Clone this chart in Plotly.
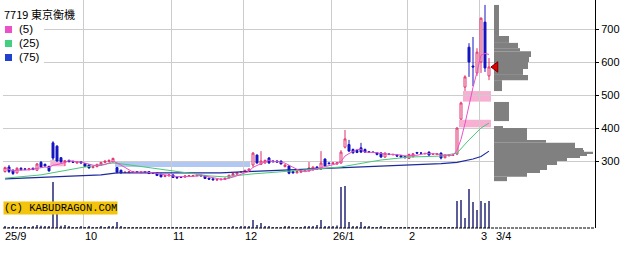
import pandas as pd
import plotly.graph_objects as go

# ---------------- data ----------------
holidays = ["2025-09-15", "2025-09-23", "2025-10-13", "2025-11-03", "2025-11-24",
            "2025-12-31", "2026-01-01", "2026-01-02", "2026-01-12", "2026-02-11", "2026-02-23"]
dates = pd.bdate_range("2025-09-01", "2026-03-04", freq="C", holidays=holidays)

open_ = [
    268, 282, 272, 264, 278, 276, 274, 278, 272, 296, 290, 284, 355, 345, 310, 296, 302, 299, 294, 298,
    292, 288, 280, 283, 288, 296, 299, 297, 280, 272, 266, 265, 266, 268, 265, 268, 268, 265, 264, 260, 253, 255,
    258, 251, 251, 251, 254, 254, 255, 257, 255, 248, 246, 242, 243, 244, 249, 255, 260, 266,
    268, 270, 288, 318, 290, 294, 309, 300, 300, 300, 283, 285, 268, 264, 266, 270, 270, 273, 282, 276, 306, 294,
    292, 291, 294, 342, 350, 335, 332, 340, 335, 328, 327, 325, 324, 312, 321, 319, 318, 316, 314,
    308, 313, 326, 324, 322, 327, 321, 320, 324, 310, 316, 317, 321, 427, 524, 645, 588, 567,
    600, 721, 558]
high = [
    283, 288, 275, 281, 281, 279, 279, 280, 294, 300, 292, 284, 360, 348, 312, 303, 304, 301, 299, 300,
    294, 290, 284, 291, 297, 301, 304, 310, 282, 274, 268, 269, 269, 269, 268, 269, 269, 266, 265, 261, 257, 259,
    259, 253, 253, 256, 257, 257, 258, 258, 256, 249, 247, 245, 246, 249, 258, 263, 266, 269,
    273, 277, 327, 320, 330, 304, 312, 302, 302, 301, 290, 287, 270, 269, 271, 273, 297, 283, 284, 330, 308, 296,
    296, 296, 333, 394, 364, 338, 335, 355, 338, 330, 329, 327, 327, 326, 323, 322, 320, 318, 316,
    322, 324, 327, 326, 325, 329, 323, 323, 326, 320, 319, 320, 402, 480, 560, 657, 676, 642,
    735, 773, 612]
low = [
    265, 264, 258, 262, 271, 272, 272, 273, 270, 280, 283, 268, 303, 298, 295, 285, 296, 294, 292, 292,
    282, 277, 278, 281, 286, 294, 297, 296, 262, 262, 263, 263, 264, 265, 263, 265, 261, 262, 255, 251, 251, 253,
    249, 247, 249, 250, 253, 253, 254, 254, 246, 244, 242, 241, 242, 243, 248, 254, 259, 264,
    266, 268, 280, 292, 288, 292, 292, 296, 295, 290, 281, 260, 262, 263, 265, 269, 268, 271, 275, 273, 283, 290,
    290, 289, 292, 338, 328, 322, 324, 325, 325, 325, 325, 317, 310, 310, 318, 317, 313, 310, 308,
    306, 311, 321, 322, 320, 316, 319, 318, 305, 308, 314, 315, 318, 425, 512, 555, 527, 558,
    567, 570, 545]
close = [
    280, 268, 262, 278, 274, 275, 277, 274, 291, 282, 285, 270, 309, 300, 298, 300, 298, 296, 297, 294,
    284, 279, 283, 290, 296, 300, 302, 308, 266, 264, 266, 268, 268, 266, 267, 266, 262, 263, 256, 252, 256, 258,
    250, 249, 250, 255, 256, 256, 257, 255, 247, 245, 243, 244, 245, 248, 257, 262, 265, 268,
    272, 276, 324, 294, 300, 302, 294, 298, 297, 291, 288, 263, 264, 268, 270, 272, 279, 282, 276, 294, 285, 292,
    294, 295, 327, 367, 330, 325, 326, 327, 327, 327, 326, 320, 312, 324, 320, 320, 315, 312, 310,
    320, 322, 324, 324, 323, 318, 321, 322, 309, 318, 318, 318, 400, 476, 555, 600, 585, 630,
    733, 582, 585]
volume = [
    30, 20, 30, 20, 20, 30, 20, 25, 60, 45, 25, 30, 920, 300, 45, 60, 25, 20, 20, 25,
    20, 25, 20, 20, 25, 20, 25, 30, 120, 40, 20, 15, 15, 20, 15, 15, 20, 15, 20, 20, 15, 15,
    20, 15, 15, 15, 15, 15, 15, 15, 20, 15, 15, 20, 15, 15, 20, 25, 20, 30,
    30, 40, 160, 60, 100, 30, 25, 20, 20, 20, 40, 25, 20, 20, 20, 30, 40, 25, 60, 160, 40, 30,
    30, 50, 820, 840, 120, 40, 40, 120, 40, 25, 20, 20, 25, 20, 20, 20, 20, 15, 15,
    20, 20, 15, 15, 15, 15, 15, 15, 20, 15, 15, 20, 540, 560, 200, 780, 520, 360,
    540, 500, 540]

ma25_idx = [0, 9, 19, 27, 30, 38, 46, 51, 55, 59, 62, 74, 84, 91, 94, 101, 109, 113, 116, 119, 121]
ma25_val = [248, 258, 280, 294, 290, 276, 264, 255, 252, 257, 261, 272, 282, 297, 303, 312, 315, 324, 364, 400, 415]
ma75_idx = [0, 24, 28, 54, 59, 71, 82, 90, 109, 113, 117, 119, 121]
ma75_val = [246, 258, 264, 264, 267, 273, 279, 282, 292, 296, 306, 314, 330]

# price-by-volume profile: (low price, high price, relative volume)
prof_lo = [679, 658, 642, 633, 615, 600, 579, 561, 545, 512, 421, 400, 364, 355, 345, 342, 339, 336, 333, 328, 323, 318, 309, 300, 288, 273, 264, 252, 239]
prof_hi = [773, 679, 658, 642, 633, 615, 600, 579, 561, 545, 479, 406, 400, 364, 355, 345, 342, 339, 336, 333, 328, 323, 318, 309, 300, 288, 273, 264, 252]
prof_vol = [5, 15, 24, 26, 37, 35, 34, 29, 34, 8, 15, 9, 33, 52, 81, 81, 66, 89, 72, 90, 99, 93, 86, 73, 63, 53, 46, 33, 13]

# price gaps (windows): start index, end index, low, high, direction
gap_x0 = [11.3, 27.5, 113.5, 114.5]
gap_x1 = [15.0, 61.3, 121.5, 121.5]
gap_lo = [284, 282, 402, 480]
gap_hi = [303, 297, 425, 512]
gap_dir = ["up", "down", "up", "up"]

title_text = "7719 東京衡機"
ma_labels = ["(5)", "(25)", "(75)"]
price_ticks = [300, 400, 500, 600, 700]

# ---------------- derived ----------------
n = min(len(dates), len(close))
dates = dates[:n]
idx = list(range(n))
ma5 = pd.Series(close).rolling(5, min_periods=1).mean().tolist()

month_start = [i for i in range(n) if i == 0 or dates[i].month != dates[i - 1].month]
month_text = []
for i in month_start:
    d = dates[i]
    if i == 0 or d.month == 1:
        month_text.append(f"{d.year % 100}/{d.month}")
    else:
        month_text.append(f"{d.month}")
last_label = f"{dates[-1].month}/{dates[-1].day}"

C_UP = "#e2306c"
C_DN = "#1414c0"
C_MA5 = "#ec50c8"
C_MA25 = "#48c878"
C_MA75 = "#1c2a9c"

fig = go.Figure()

fig.add_trace(go.Bar(x=idx, y=volume, yaxis="y3", width=0.25,
                     marker=dict(color="#5c5c96", line=dict(width=0)), hoverinfo="skip"))

fig.add_trace(go.Bar(y=[(a + b) / 2 for a, b in zip(prof_lo, prof_hi)], x=prof_vol,
                     width=[b - a for a, b in zip(prof_lo, prof_hi)], orientation="h",
                     xaxis="x2", yaxis="y", base=0,
                     marker=dict(color="#808080", line=dict(width=0)), hoverinfo="skip"))

fig.add_trace(go.Scatter(x=ma75_idx, y=ma75_val, mode="lines", line=dict(color=C_MA75, width=1.1), hoverinfo="skip"))
fig.add_trace(go.Scatter(x=ma25_idx, y=ma25_val, mode="lines", line=dict(color=C_MA25, width=1), hoverinfo="skip"))
fig.add_trace(go.Scatter(x=idx, y=ma5, mode="lines", line=dict(color=C_MA5, width=1), hoverinfo="skip"))

fig.add_trace(go.Candlestick(x=idx, open=open_, high=high, low=low, close=close,
                             increasing=dict(line=dict(color=C_UP, width=1), fillcolor="#ffffff"),
                             decreasing=dict(line=dict(color=C_DN, width=1), fillcolor=C_DN),
                             whiskerwidth=0, hoverinfo="skip"))

fig.add_trace(go.Scatter(x=[1.5], y=[close[-1]], xaxis="x2", mode="markers", cliponaxis=False,
                         marker=dict(symbol="triangle-left", size=9, color="#e00000",
                                     line=dict(color="#700000", width=1)), hoverinfo="skip"))

shapes = []
for x0, x1, lo, hi, d in zip(gap_x0, gap_x1, gap_lo, gap_hi, gap_dir):
    shapes.append(dict(type="rect", xref="x", yref="y", x0=x0, x1=x1, y0=lo, y1=hi, layer="below",
                       fillcolor="#f7b0d2" if d == "up" else "#b0c8f2", line=dict(width=0)))

PW, PH, L0 = 592.0, 228.0, 3.0
def px(xp):
    return (xp - L0) / PW
def py(yp):
    return 1 - yp / PH

# white legend background
shapes.append(dict(type="rect", xref="paper", yref="paper", x0=px(0), x1=px(44), y0=py(64), y1=py(0),
                   fillcolor="white", line=dict(width=0), layer="above"))
for k, col in enumerate([C_MA5, "#40d080", "#2040d0"]):
    yc = 29 + 14 * k
    shapes.append(dict(type="rect", xref="paper", yref="paper", x0=px(5), x1=px(12), y0=py(yc + 4), y1=py(yc - 3),
                       fillcolor=col, line=dict(width=0), layer="above"))
# bottom axis line (dashed)
shapes.append(dict(type="line", xref="paper", yref="paper", x0=0, x1=1, y0=0, y1=0,
                   line=dict(color="#000000", width=1, dash="3px,1px"), layer="above"))

annotations = []
annotations.append(dict(xref="paper", yref="paper", x=px(2), y=py(14), xanchor="left", yanchor="middle",
                        text=title_text, showarrow=False,
                        font=dict(family="Noto Sans CJK JP", size=11, color="black")))
for k, t in enumerate(ma_labels):
    annotations.append(dict(xref="paper", yref="paper", x=px(17), y=py(29 + 14 * k), xanchor="left",
                            yanchor="middle", text=t, showarrow=False,
                            font=dict(family="Liberation Sans, Arial", size=11.5, color="black")))
annotations.append(dict(xref="paper", yref="paper", x=px(3), y=py(208), xanchor="left", yanchor="middle",
                        text="(C) KABUDRAGON.COM", showarrow=False, bgcolor="#f2c40c", borderpad=0,
                        font=dict(family="Liberation Mono, DejaVu Sans Mono", size=10.5, color="black")))
for i, t in zip(month_start, month_text):
    annotations.append(dict(xref="x", yref="paper", x=i - 0.5, y=-8 / PH, xanchor="left", yanchor="middle",
                            text=t, showarrow=False,
                            font=dict(family="Liberation Sans, Arial", size=11, color="black")))
annotations.append(dict(xref="x2", yref="paper", x=0, y=-8 / PH, xanchor="left", yanchor="middle",
                        text=last_label, showarrow=False,
                        font=dict(family="Liberation Sans, Arial", size=11, color="black")))

fig.update_layout(
    width=640, height=255, margin=dict(l=3, r=45, t=0, b=27),
    plot_bgcolor="white", paper_bgcolor="white", showlegend=False, barmode="overlay",
    xaxis=dict(range=[-0.5, 147.5], tickvals=[i - 0.5 for i in month_start], showticklabels=False,
               showgrid=True, gridcolor="#cccccc", gridwidth=1, zeroline=False, ticks="",
               rangeslider=dict(visible=False), showline=False),
    xaxis2=dict(overlaying="x", range=[-491, 101], visible=False),
    yaxis=dict(range=[97, 788], side="right", tickvals=price_ticks, showgrid=True, gridcolor="#cccccc",
               showline=True, linecolor="black", linewidth=1, ticks="outside", ticklen=3, tickcolor="black",
               zeroline=False, tickfont=dict(family="Liberation Sans, Arial", size=11, color="black")),
    yaxis3=dict(overlaying="y", range=[0, 4560], visible=False),
    shapes=shapes, annotations=annotations,
)

fig.write_html("out.html")
